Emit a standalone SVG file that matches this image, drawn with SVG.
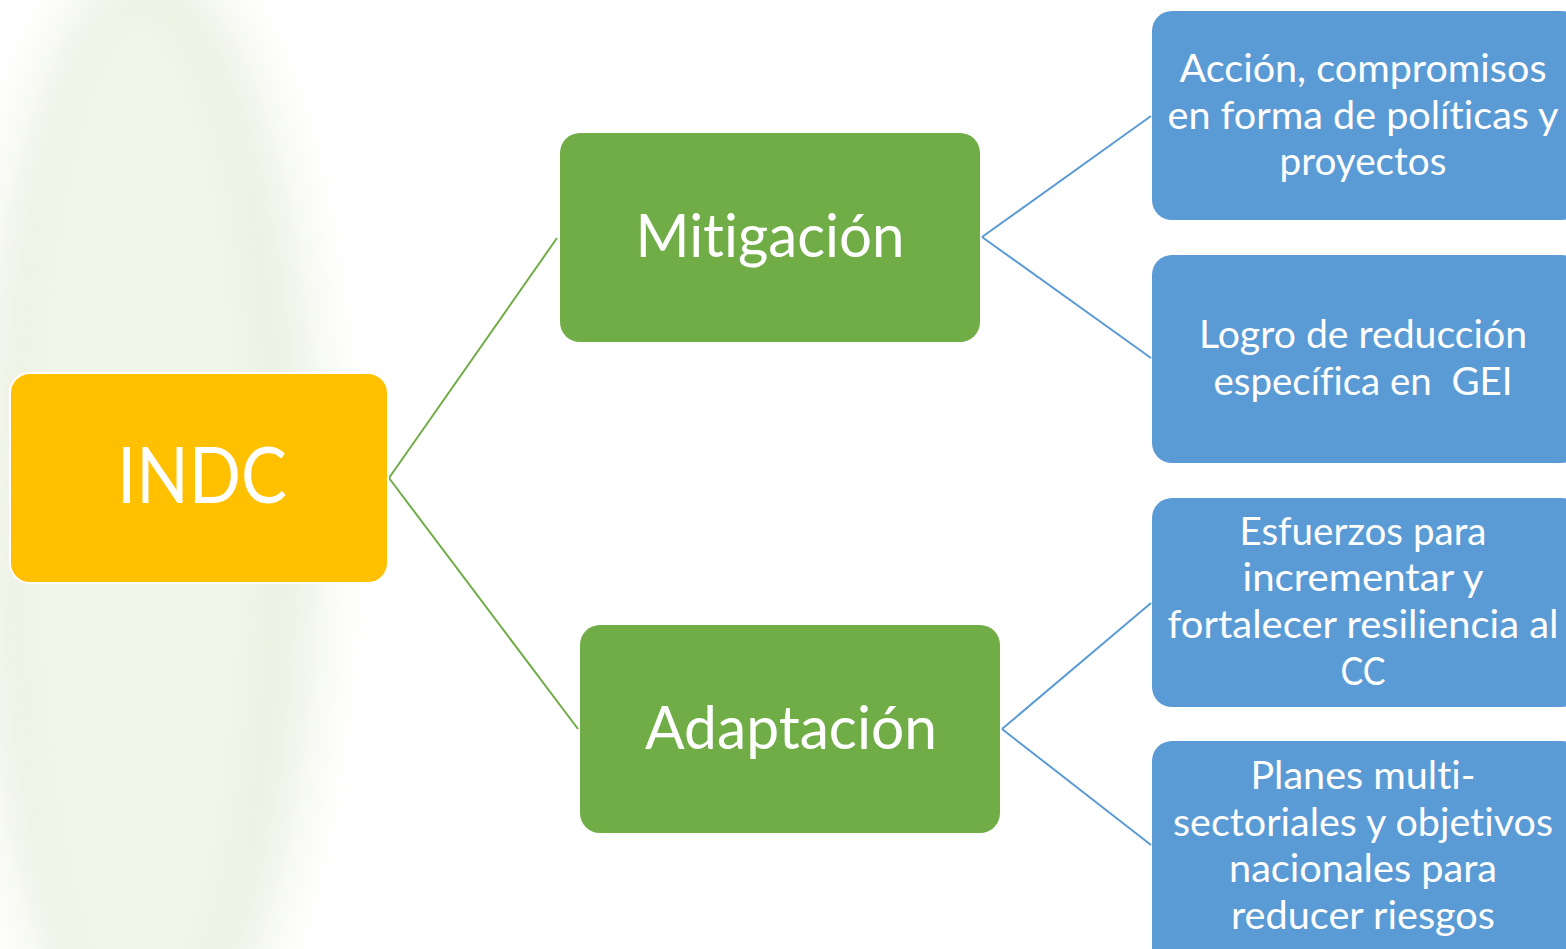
<svg xmlns="http://www.w3.org/2000/svg" width="1566" height="949" viewBox="0 0 1566 949">
<defs>
<filter id="blur" x="-50%" y="-50%" width="200%" height="200%"><feGaussianBlur stdDeviation="28"/></filter>
<filter id="blur2" x="-50%" y="-50%" width="200%" height="200%"><feGaussianBlur stdDeviation="14"/></filter>
<style>
.t{font-family:Lato,"Open Sans","Liberation Sans",sans-serif;fill:#fff;text-anchor:middle;white-space:pre;font-variant-ligatures:none;font-feature-settings:"liga" 0}
.b{font-size:38px}
.g{fill:#70AD47}
.bl{fill:#5B9BD5}
.lg{stroke:#70AD47;stroke-width:2;fill:none}
.lb{stroke:#5B9BD5;stroke-width:2;fill:none}
</style>
</defs>
<rect width="1566" height="949" fill="#fff"/>
<g id="background">
<ellipse cx="150" cy="520" rx="170" ry="560" fill="#ECF1E2" filter="url(#blur)"/>
<ellipse cx="140" cy="520" rx="120" ry="510" fill="#F2F5EA" filter="url(#blur2)"/>
</g>
<g id="connectors">
<line class="lg" x1="389" y1="478" x2="557" y2="238"/>
<line class="lg" x1="389" y1="478" x2="578" y2="729"/>
<line class="lb" x1="982" y1="237" x2="1151" y2="116"/>
<line class="lb" x1="982" y1="237" x2="1151" y2="358"/>
<line class="lb" x1="1002" y1="729" x2="1151" y2="603"/>
<line class="lb" x1="1002" y1="729" x2="1151" y2="845"/>
</g>
<g id="indc">
<rect x="10" y="373" width="378" height="210" rx="20" fill="#FFC000" stroke="#fff" stroke-width="2"/>
<text class="t" x="202" y="503" font-size="77" textLength="170" lengthAdjust="spacingAndGlyphs">INDC</text>
</g>
<g id="mitigacion">
<rect class="g" x="560" y="133" width="420" height="209" rx="20"/>
<text class="t" x="770" y="257" font-size="60" textLength="269" lengthAdjust="spacingAndGlyphs">Mitigación</text>
</g>
<g id="adaptacion">
<rect class="g" x="580" y="625" width="420" height="208" rx="20"/>
<text class="t" x="791" y="749" font-size="60" textLength="292" lengthAdjust="spacingAndGlyphs">Adaptación</text>
</g>
<g id="accion">
<rect class="bl" x="1152" y="11" width="430" height="209" rx="20"/>
<text class="t b" x="1363" y="82" textLength="367" lengthAdjust="spacingAndGlyphs">Acción, compromisos</text>
<text class="t b" x="1363" y="129" textLength="391" lengthAdjust="spacingAndGlyphs">en forma de políticas y</text>
<text class="t b" x="1363" y="175" textLength="167" lengthAdjust="spacingAndGlyphs">proyectos</text>
</g>
<g id="logro">
<rect class="bl" x="1152" y="255" width="430" height="208" rx="20"/>
<text class="t b" x="1363" y="348" textLength="328" lengthAdjust="spacingAndGlyphs">Logro de reducción</text>
<text class="t b" x="1363" y="395" textLength="299" lengthAdjust="spacingAndGlyphs" xml:space="preserve">específica en  GEI</text>
</g>
<g id="esfuerzos">
<rect class="bl" x="1152" y="498" width="430" height="209" rx="20"/>
<text class="t b" x="1363" y="545" textLength="247" lengthAdjust="spacingAndGlyphs">Esfuerzos para</text>
<text class="t b" x="1363" y="591" textLength="241" lengthAdjust="spacingAndGlyphs">incrementar y</text>
<text class="t b" x="1363" y="638" textLength="391" lengthAdjust="spacingAndGlyphs">fortalecer resiliencia al</text>
<text class="t b" x="1363" y="685" textLength="45" lengthAdjust="spacingAndGlyphs">CC</text>
</g>
<g id="planes">
<rect class="bl" x="1152" y="741" width="430" height="230" rx="20"/>
<text class="t b" x="1363" y="789" textLength="225" lengthAdjust="spacingAndGlyphs">Planes multi-</text>
<text class="t b" x="1363" y="836" textLength="380" lengthAdjust="spacingAndGlyphs">sectoriales y objetivos</text>
<text class="t b" x="1363" y="882" textLength="268" lengthAdjust="spacingAndGlyphs">nacionales para</text>
<text class="t b" x="1363" y="929" textLength="264" lengthAdjust="spacingAndGlyphs">reducer riesgos</text>
</g>
</svg>
